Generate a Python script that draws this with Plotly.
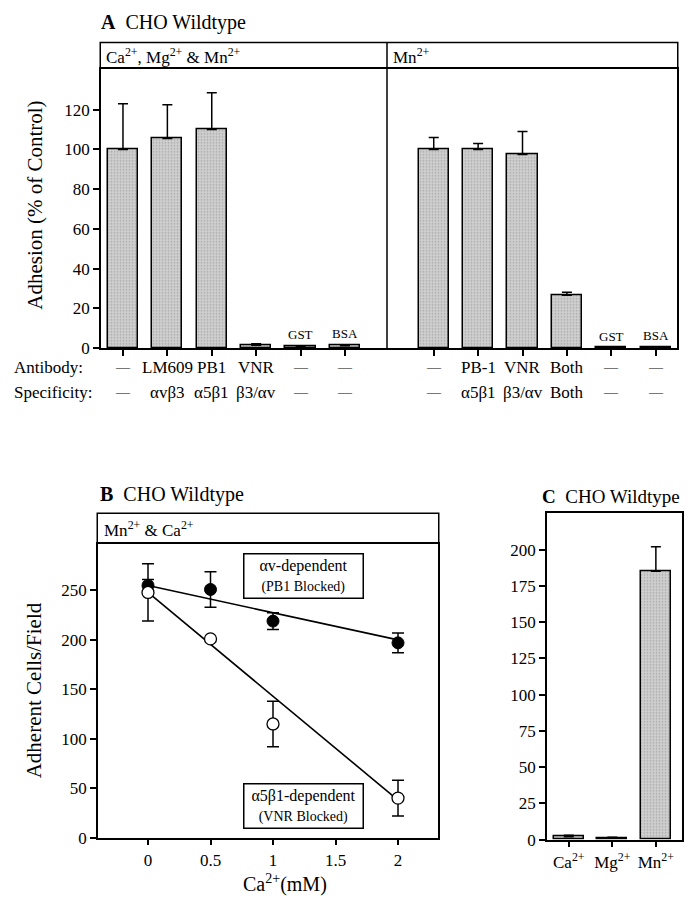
import plotly.graph_objects as go

# ---------------- data ----------------
# Panel A
a_pos = [0, 1, 2, 3, 4, 5, 7, 8, 9, 10, 11, 12]
a_values = [100, 105.5, 110, 1.5, 0.7, 1.2, 100, 100, 97.5, 26.6, 0.2, 0.6]
a_err = [23, 17, 18.5, 0.7, 0.2, 0.3, 6, 3, 11.5, 1.5, 0, 0]
a_antibody = ["—", "LM609", "PB1", "VNR", "—", "—", "—", "PB-1", "VNR", "Both", "—", "—"]
a_specificity = ["—", "αvβ3", "α5β1", "β3/αv", "—", "—", "—", "α5β1", "β3/αv", "Both", "—", "—"]
a_bar_tags = {4: "GST", 5: "BSA", 10: "GST", 11: "BSA"}
a_yticks = [0, 20, 40, 60, 80, 100, 120]

# Panel B
b_x = [0, 0.5, 1, 2]
b_av = [255, 251, 219, 197]
b_av_err = [6, 18, 8.5, 10]
b_a5 = [248, 201, 115, 40]
b_a5_err = [29, 0, 23, 18]
b_fit_x = [0, 2]
b_fit_av = [255, 200]
b_fit_a5 = [248, 38]
b_xticks = [0, 0.5, 1, 1.5, 2]
b_xticklabels = ["0", "0.5", "1", "1.5", "2"]
b_yticks = [0, 50, 100, 150, 200, 250]

# Panel C
c_cats = ["Ca<sup>2+</sup>", "Mg<sup>2+</sup>", "Mn<sup>2+</sup>"]
c_values = [2, 1, 185]
c_err = [1, 0.7, 17]
c_yticks = [0, 25, 50, 75, 100, 125, 150, 175, 200]

# ---------------- helpers ----------------
W, H = 698, 900
FONT = "Liberation Serif, Times New Roman, serif"


def fx(p):
    return p / W


def fy(p):
    return 1 - p / H


bar_marker = dict(
    color="#c4c4c4",
    line=dict(color="black", width=1.5),
    pattern=dict(shape=".", fillmode="overlay", bgcolor="#cfcfcf",
                 fgcolor="#808080", size=3, solidity=0.25),
)

fig = go.Figure()

# Panel A bars
fig.add_trace(go.Bar(
    x=a_pos, y=a_values, width=0.68, marker=bar_marker,
    error_y=dict(type="data", array=a_err, arrayminus=[0] * len(a_err),
                 symmetric=False, color="black", thickness=1.5, width=5),
    xaxis="x", yaxis="y", showlegend=False,
))

# Panel B
fig.add_trace(go.Scatter(
    x=b_fit_x, y=b_fit_av, mode="lines", line=dict(color="black", width=1.6),
    xaxis="x2", yaxis="y2", showlegend=False))
fig.add_trace(go.Scatter(
    x=b_fit_x, y=b_fit_a5, mode="lines", line=dict(color="black", width=1.6),
    xaxis="x2", yaxis="y2", showlegend=False))
fig.add_trace(go.Scatter(
    x=b_x, y=b_av, mode="markers",
    marker=dict(color="black", size=12, line=dict(color="black", width=1)),
    error_y=dict(type="data", array=b_av_err, color="black", thickness=1.5, width=6),
    xaxis="x2", yaxis="y2", showlegend=False))
fig.add_trace(go.Scatter(
    x=b_x, y=b_a5, mode="markers",
    marker=dict(color="white", size=12, line=dict(color="black", width=1.3)),
    error_y=dict(type="data", array=b_a5_err, color="black", thickness=1.5, width=6),
    xaxis="x2", yaxis="y2", showlegend=False))

# Panel C
fig.add_trace(go.Bar(
    x=[0, 1, 2], y=c_values, width=0.69, marker=bar_marker,
    error_y=dict(type="data", array=c_err, arrayminus=[0] * len(c_err),
                 symmetric=False, color="black", thickness=1.5, width=5),
    xaxis="x3", yaxis="y3", showlegend=False,
))

axis_common = dict(showline=True, linecolor="black", linewidth=1.5, mirror=True,
                   ticks="outside", ticklen=6, tickwidth=1.5, tickcolor="black",
                   showgrid=False, zeroline=False,
                   tickfont=dict(family=FONT, size=17, color="black"))

annotations = []
shapes = []


def txt(x, y, text, size=17, xanchor="left", angle=0):
    annotations.append(dict(xref="paper", yref="paper", x=fx(x), y=fy(y), text=text,
                            showarrow=False, xanchor=xanchor, yanchor="middle",
                            textangle=angle,
                            font=dict(family=FONT, size=size, color="black")))


def header(x0, x1, ytop, ybot):
    # top, left and right edges; the bottom edge is the axis' mirrored line
    pth = (f"M {fx(x0 - 0.75)} {fy(ybot)} L {fx(x0 - 0.75)} {fy(ytop)} "
           f"L {fx(x1 + 0.75)} {fy(ytop)} L {fx(x1 + 0.75)} {fy(ybot)}")
    shapes.append(dict(type="path", xref="paper", yref="paper", path=pth,
                       line=dict(color="black", width=1.5)))


def row_label(p, text, y):
    size = 14 if text == "—" else 17
    annotations.append(dict(xref="x", yref="paper", x=p, y=fy(y), text=text,
                            showarrow=False, yanchor="middle",
                            font=dict(family=FONT, size=size, color="black")))


# ---- Panel A layout ----
fig.update_layout(
    xaxis=dict(domain=[fx(93), fx(669)], range=[-0.495, 12.48], anchor="y",
               tickvals=a_pos, ticktext=[""] * len(a_pos), **axis_common),
    yaxis=dict(domain=[fy(344), fy(62)], range=[0, 140.3], anchor="x",
               tickvals=a_yticks, **axis_common),
)
header(93, 669, 35, 61)
shapes.append(dict(type="line", xref="paper", yref="paper", x0=fx(379), x1=fx(379),
                   y0=fy(344), y1=fy(35), line=dict(color="black", width=1.5)))
txt(91, 15, "<b>A</b>  CHO Wildtype", 20)
txt(96, 49, "Ca<sup>2+</sup>, Mg<sup>2+</sup> & Mn<sup>2+</sup>", 17)
txt(383, 49, "Mn<sup>2+</sup>", 17)
txt(27, 200, "Adhesion (% of Control)", 21, xanchor="center", angle=-90)
txt(4, 364, "Antibody:", 17)
txt(4, 389, "Specificity:", 17)
for p, ab, sp in zip(a_pos, a_antibody, a_specificity):
    row_label(p, ab, 364)
    row_label(p, sp, 389)
for i, tag in a_bar_tags.items():
    annotations.append(dict(xref="x", yref="y", x=a_pos[i], y=a_values[i] + a_err[i],
                            text=tag, showarrow=False, yanchor="bottom", yshift=2,
                            font=dict(family=FONT, size=13, color="black")))

# ---- Panel B layout ----
fig.update_layout(
    xaxis2=dict(domain=[fx(90), fx(430)], range=[-0.4, 2.32], anchor="y2",
                tickvals=b_xticks, ticktext=b_xticklabels, **axis_common),
    yaxis2=dict(domain=[fy(839), fy(542)], range=[0, 297], anchor="x2",
                tickvals=b_yticks, **axis_common),
)
header(90, 430, 511, 541)
txt(90, 492, "<b>B</b>  CHO Wildtype", 20)
txt(94, 527, "Mn<sup>2+</sup> & Ca<sup>2+</sup>", 17)
txt(26, 690, "Adherent Cells/Field", 21, xanchor="center", angle=-90)
txt(277, 885, "Ca<sup>2+</sup>(mM)", 20, xanchor="center")
annotations.append(dict(xref="x2", yref="y2", x=1.24, y=265,
                        text="αv-dependent<br><span style='font-size:14px'>(PB1 Blocked)</span>",
                        showarrow=False, bordercolor="black", borderwidth=1.5,
                        borderpad=2, bgcolor="white", width=114,
                        font=dict(family=FONT, size=16, color="black")))
annotations.append(dict(xref="x2", yref="y2", x=1.24, y=32,
                        text="α5β1-dependent<br><span style='font-size:14px'>(VNR Blocked)</span>",
                        showarrow=False, bordercolor="black", borderwidth=1.5,
                        borderpad=2, bgcolor="white", width=114,
                        font=dict(family=FONT, size=16, color="black")))

# ---- Panel C layout ----
fig.update_layout(
    xaxis3=dict(domain=[fx(539), fx(674)], range=[-0.5, 2.6], anchor="y3",
                tickvals=[0, 1, 2], ticktext=c_cats, **axis_common),
    yaxis3=dict(domain=[fy(841), fy(511)], range=[0, 225], anchor="x3",
                tickvals=c_yticks, **axis_common),
)
txt(532, 494, "<b>C</b>  CHO Wildtype", 19)

fig.update_layout(
    width=W, height=H, margin=dict(l=0, r=0, t=0, b=0),
    paper_bgcolor="white", plot_bgcolor="white", showlegend=False,
    annotations=annotations, shapes=shapes, bargap=0,
    font=dict(family=FONT, color="black"),
)

fig.write_html("out.html")
